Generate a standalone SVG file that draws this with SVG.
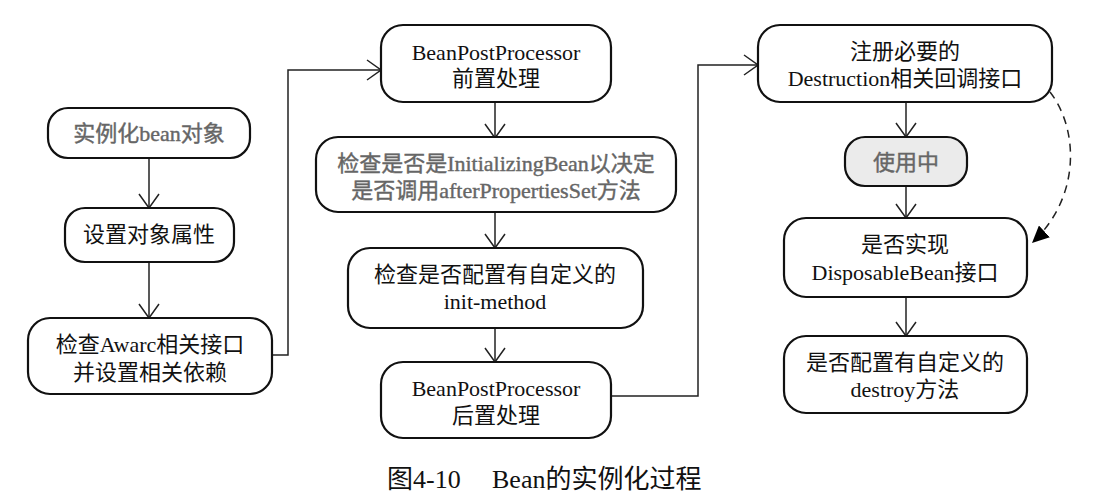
<svg xmlns="http://www.w3.org/2000/svg" width="1105" height="502" viewBox="0 0 1105 502">
<defs>
<marker id="open" markerUnits="userSpaceOnUse" markerWidth="16" markerHeight="22" viewBox="0 0 16 22" refX="15" refY="11" orient="auto">
<path d="M1,1 L15,11 L1,21" fill="none" stroke="#222" stroke-width="1.5"/>
</marker>
<marker id="solid" markerUnits="userSpaceOnUse" markerWidth="18" markerHeight="16" viewBox="0 0 18 16" refX="17" refY="8" orient="auto">
<path d="M0,0 L17,8 L0,16 z" fill="#000"/>
</marker>
</defs>
<style>
rect{fill:#fff;stroke:#111;stroke-width:2.2}
.g rect{fill:#ebebeb}
text{font-family:"Liberation Serif","Noto Sans CJK SC",serif;font-size:22px;fill:#111;text-anchor:middle}
.gt{fill:#666;stroke:#666;stroke-width:0.4}
.c path,.c line,.c polyline{fill:none;stroke:#222;stroke-width:1.5}
.cap{font-size:26px;text-anchor:start}
</style>
<rect width="1105" height="502" style="fill:#fff;stroke:none"/>
<g class="c" id="connectors">
<line x1="149" y1="158" x2="149" y2="208" marker-end="url(#open)"/>
<line x1="149" y1="262" x2="149" y2="318" marker-end="url(#open)"/>
<polyline points="272,355 288,355 288,70 381,70" marker-end="url(#open)"/>
<line x1="495" y1="102" x2="495" y2="138" marker-end="url(#open)"/>
<line x1="495" y1="212" x2="495" y2="248" marker-end="url(#open)"/>
<line x1="495" y1="328" x2="495" y2="362" marker-end="url(#open)"/>
<polyline points="611,396 698,396 698,65 758,65" marker-end="url(#open)"/>
<line x1="906" y1="102" x2="906" y2="137" marker-end="url(#open)"/>
<line x1="906" y1="186" x2="906" y2="218" marker-end="url(#open)"/>
<line x1="906" y1="297" x2="906" y2="336" marker-end="url(#open)"/>
<path d="M1050,92 C1078,128 1082,196 1032,243" stroke-dasharray="8,6" marker-end="url(#solid)"/>
</g>
<g id="n1"><rect x="48" y="108" width="202" height="50" rx="20"/><text class="gt" x="149" y="141">实例化bean对象</text></g>
<g id="n2"><rect x="65" y="208" width="169" height="54" rx="20"/><text x="149" y="242">设置对象属性</text></g>
<g id="n3"><rect x="28" y="318" width="244" height="76" rx="22"/><text x="150" y="352">检查Awarc相关接口</text><text x="150" y="380">并设置相关依赖</text></g>
<g id="n4"><rect x="381" y="25" width="230" height="77" rx="22"/><text x="496" y="60">BeanPostProcessor</text><text x="496" y="86">前置处理</text></g>
<g id="n5"><rect x="316" y="137" width="360" height="75" rx="22"/><text class="gt" x="496" y="171">检查是否是InitializingBean以决定</text><text class="gt" x="496" y="198">是否调用afterPropertiesSet方法</text></g>
<g id="n6"><rect x="348" y="248" width="295" height="80" rx="22"/><text x="495" y="282">检查是否配置有自定义的</text><text x="495" y="309">init-method</text></g>
<g id="n7"><rect x="381" y="362" width="230" height="76" rx="22"/><text x="496" y="396">BeanPostProcessor</text><text x="496" y="423">后置处理</text></g>
<g id="n8"><rect x="758" y="25" width="294" height="77" rx="22"/><text x="905" y="59">注册必要的</text><text x="905" y="86">Destruction相关回调接口</text></g>
<g id="n9" class="g"><rect x="845" y="137" width="122" height="49" rx="20"/><text class="gt" x="906" y="170">使用中</text></g>
<g id="n10"><rect x="784" y="218" width="243" height="79" rx="22"/><text x="905" y="252">是否实现</text><text x="905" y="280">DisposableBean接口</text></g>
<g id="n11"><rect x="784" y="336" width="243" height="77" rx="22"/><text x="905" y="370">是否配置有自定义的</text><text x="905" y="397">destroy方法</text></g>
<text class="cap" x="387" y="488">图4-10</text>
<text class="cap" x="492" y="488">Bean的实例化过程</text>
</svg>
